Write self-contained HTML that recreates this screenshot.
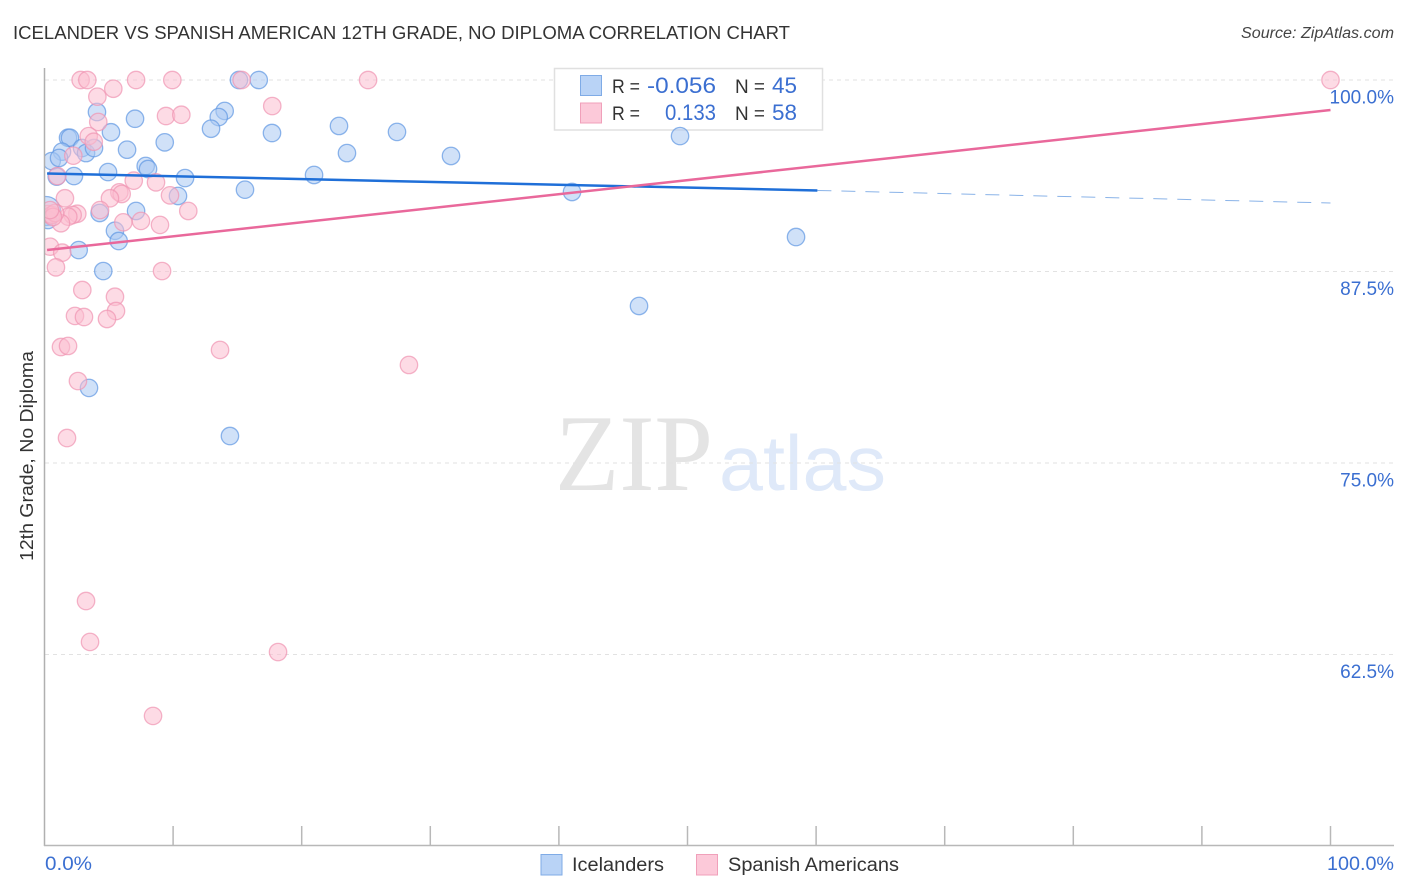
<!DOCTYPE html>
<html lang="en">
<head>
<meta charset="utf-8">
<title>Icelander vs Spanish American 12th Grade, No Diploma Correlation Chart</title>
<style>
html,body{margin:0;padding:0;background:#fff;}
svg{display:block;font-family:"Liberation Sans",sans-serif;}
</style>
</head>
<body>
<svg id="chart" width="1406" height="892" viewBox="0 0 1406 892" xmlns="http://www.w3.org/2000/svg">
  <defs>
    <clipPath id="plot-clip"><rect x="45" y="60" width="1361" height="786"/></clipPath>
  </defs>
  <text x="13" y="39" font-size="18" fill="#333" textLength="777" lengthAdjust="spacingAndGlyphs">ICELANDER VS SPANISH AMERICAN 12TH GRADE, NO DIPLOMA CORRELATION CHART</text>
  <text x="1241" y="38" font-size="15.5" font-style="italic" fill="#444" textLength="153" lengthAdjust="spacingAndGlyphs">Source: ZipAtlas.com</text>

  <g>
    <text x="555" y="490" font-family="'Liberation Serif',serif" font-size="109" fill="#e4e4e4" textLength="158" lengthAdjust="spacingAndGlyphs">ZIP</text>
    <text x="719" y="490" font-size="78" fill="#dfe9f9" textLength="167" lengthAdjust="spacingAndGlyphs">atlas</text>
  </g>

  <g id="grid"></g>

  <g>
    <rect x="554.5" y="68.5" width="268" height="61.5" fill="#fff" stroke="#e0e0e0" stroke-width="1.5"/>
    <rect x="580.5" y="75.5" width="21" height="20" fill="#b9d3f6" stroke="#7fabe6"/>
    <rect x="580.5" y="103" width="21" height="20" fill="#fcc9d9" stroke="#f0a0ba"/>
    <text x="612" y="93" font-size="19" fill="#333" textLength="28" lengthAdjust="spacingAndGlyphs">R =</text>
    <text x="647" y="93" font-size="22" fill="#3b6fd1" textLength="69" lengthAdjust="spacingAndGlyphs">-0.056</text>
    <text x="735" y="93" font-size="19" fill="#333" textLength="30" lengthAdjust="spacingAndGlyphs">N =</text>
    <text x="772" y="93" font-size="22" fill="#3b6fd1" textLength="25" lengthAdjust="spacingAndGlyphs">45</text>
    <text x="612" y="120" font-size="19" fill="#333" textLength="28" lengthAdjust="spacingAndGlyphs">R =</text>
    <text x="665" y="120" font-size="22" fill="#3b6fd1" textLength="51" lengthAdjust="spacingAndGlyphs">0.133</text>
    <text x="735" y="120" font-size="19" fill="#333" textLength="30" lengthAdjust="spacingAndGlyphs">N =</text>
    <text x="772" y="120" font-size="22" fill="#3b6fd1" textLength="25" lengthAdjust="spacingAndGlyphs">58</text>
  </g>

  <g id="points" clip-path="url(#plot-clip)"></g>
  <g id="trends"></g>
  <g id="axes">
    <line x1="44.5" y1="68" x2="44.5" y2="846" stroke="#b0b0b0" stroke-width="1.5"/>
    <line x1="44" y1="845.5" x2="1394" y2="845.5" stroke="#b8b8b8" stroke-width="1.5"/>
  </g>
  <g id="ylabels"></g>
  <text transform="translate(33,456) rotate(-90)" font-size="18.5" fill="#333" text-anchor="middle" textLength="210" lengthAdjust="spacingAndGlyphs">12th Grade, No Diploma</text>
  <text x="45" y="870" font-size="19" fill="#3b6fd1" textLength="47" lengthAdjust="spacingAndGlyphs">0.0%</text>
  <text x="1327" y="870" font-size="19" fill="#3b6fd1" textLength="67" lengthAdjust="spacingAndGlyphs">100.0%</text>

  <g>
    <rect x="541" y="854.5" width="21" height="20.5" fill="#b9d3f6" stroke="#7fabe6"/>
    <text x="572" y="871" font-size="19" fill="#333" textLength="92" lengthAdjust="spacingAndGlyphs">Icelanders</text>
    <rect x="696.5" y="854.5" width="21" height="20.5" fill="#fcc9d9" stroke="#f0a0ba"/>
    <text x="728" y="871" font-size="19" fill="#333" textLength="171" lengthAdjust="spacingAndGlyphs">Spanish Americans</text>
  </g>
</svg>
<script>
const yTickValues = [100, 87.5, 75, 62.5];
const yTickLabels = ["100.0%", "87.5%", "75.0%", "62.5%"];
const xTickValues = [10, 20, 30, 40, 50, 60, 70, 80, 90, 100];

const icelanderX = [15.12,16.66,4.08,7.04,14.01,13.55,12.95,17.69,5.17,9.35,6.42,1.83,1.98,1.36,2.92,3.23,3.85,0.56,1.13,7.87,8.05,4.94,2.29,0.95,10.93,15.59,10.38,4.29,7.12,5.48,5.77,2.66,4.57,0.27,22.90,27.41,23.52,31.61,49.42,20.96,41.02,58.44,46.23,3.46,14.42];
const icelanderY = [100,100,97.91,97.47,97.98,97.58,96.82,96.54,96.59,95.93,95.45,96.23,96.23,95.32,95.56,95.23,95.56,94.71,94.91,94.39,94.19,93.99,93.73,93.69,93.60,92.84,92.43,91.32,91.45,90.16,89.49,88.90,87.53,90.86,97.00,96.61,95.23,95.04,96.34,93.80,92.69,89.75,85.25,79.90,76.76];
const icelanderLargeX = [0.12];
const icelanderLargeY = [91.45];

const spanishX = [2.81,3.33,7.12,9.94,15.33,25.16,100,5.35,4.11,17.71,9.45,10.64,4.18,3.44,3.83,2.24,1.00,6.94,8.67,5.82,6.00,5.09,1.59,9.76,11.18,4.32,2.55,2.19,1.85,1.28,6.13,7.50,8.98,0.27,0.58,0.82,0.66,0.43,0.43,1.38,0.89,9.14,2.94,5.48,5.56,2.37,3.07,4.86,1.28,1.83,2.60,1.75,13.65,28.34,3.23,3.54,18.16,8.44];
const spanishY = [100,100,100,100,100,100,100,99.43,98.91,98.30,97.65,97.73,97.26,96.34,95.97,95.06,93.73,93.43,93.32,92.67,92.56,92.28,92.28,92.47,91.45,91.51,91.27,91.19,91.08,90.65,90.71,90.80,90.54,91.25,91.19,91.32,91.06,91.51,89.12,88.73,87.77,87.53,86.29,85.85,84.92,84.60,84.53,84.40,82.57,82.64,80.35,76.63,82.38,81.40,65.99,63.32,62.66,58.49];

const icelanderTrendX = [0.2, 60.1];
const icelanderTrendY = [93.9, 92.79];
const icelanderDashX = [60.1, 100];
const icelanderDashY = [92.79, 91.97];
const spanishTrendX = [0.2, 100];
const spanishTrendY = [88.9, 98.04];

const SVG_NS = "http://www.w3.org/2000/svg";
function xScale(v) { return 44.5 + v * 12.86; }
function yScale(v) { return 80 + (100 - v) * 15.32; }
function make(tag, attrs, parent) {
  const el = document.createElementNS(SVG_NS, tag);
  for (const k in attrs) el.setAttribute(k, attrs[k]);
  parent.appendChild(el);
  return el;
}

const gridGroup = document.getElementById("grid");
const axesGroup = document.getElementById("axes");
const labelGroup = document.getElementById("ylabels");
const pointsGroup = document.getElementById("points");
const trendsGroup = document.getElementById("trends");

yTickValues.forEach(function (v, i) {
  const line = make("line", { x1: 45, x2: 1394, y1: yScale(v), y2: yScale(v), stroke: "#e2e2e2", "stroke-width": 1, "stroke-dasharray": "4 4" }, gridGroup);
  
  
  const label = make("text", { x: 1394, y: yScale(v) + 23.5, "font-size": 19, fill: "#3b6fd1", "text-anchor": "end" }, labelGroup);
  
  
  label.textContent = yTickLabels[i];
});

xTickValues.forEach(function (v) {
  const tick = make("line", { x1: xScale(v), x2: xScale(v), y1: 826, y2: 846, stroke: "#b8b8b8", "stroke-width": 1.5 }, axesGroup);
  
  
});

function drawPoints(xs, ys, radius, fill, stroke, name) {
  xs.forEach(function (v, i) {
    const c = make("circle", { cx: xScale(v), cy: yScale(ys[i]), r: radius, fill: fill, "fill-opacity": 0.55, stroke: stroke, "stroke-opacity": 0.7, "stroke-width": 1.3 }, pointsGroup);
    
    
  });
}
drawPoints(icelanderLargeX, icelanderLargeY, 14.5, "#a9c8f2", "#5f97e2", "icelander-cluster-point");
drawPoints(icelanderX, icelanderY, 8.7, "#a9c8f2", "#5f97e2", "icelander-point");
drawPoints(spanishX, spanishY, 8.7, "#fbbdd0", "#ef94b2", "spanish-american-point");

function drawTrend(xs, ys, color, width, dash, name, opacity) {
  const line = make("line", { x1: xScale(xs[0]), y1: yScale(ys[0]), x2: xScale(xs[1]), y2: yScale(ys[1]), stroke: color, "stroke-width": width, "stroke-opacity": opacity }, trendsGroup);
  if (dash) line.setAttribute("stroke-dasharray", dash);
  
  
}
drawTrend(icelanderDashX, icelanderDashY, "#2a74d6", 1, "14 10", "icelander-trend-extension", 0.55);
drawTrend(icelanderTrendX, icelanderTrendY, "#1f6fd8", 2.5, null, "icelander-trend-line", 1);
drawTrend(spanishTrendX, spanishTrendY, "#e9689b", 2.5, null, "spanish-american-trend-line", 1);
</script>
</body>
</html>
